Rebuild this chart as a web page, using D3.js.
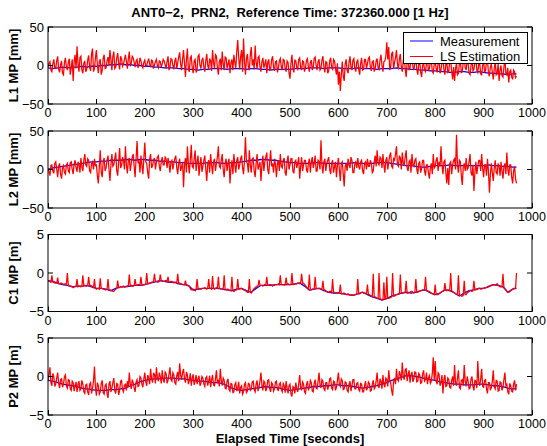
<!DOCTYPE html>
<html><head><meta charset="utf-8">
<script src="https://cdn.jsdelivr.net/npm/d3@7"></script>
<style>body{margin:0;background:#fff} text{white-space:pre}</style>
</head><body><svg id="c" width="547" height="446"></svg>
<script>
const titleText = "ANT0\u22122,  PRN2,  Reference Time: 372360.000 [1 Hz]";
const xLabelText = "Elapsed Time [seconds]";
const xTicks = [0,100,200,300,400,500,600,700,800,900,1000];
const yLabels = ["L1 MP [mm]","L2 MP [mm]","C1 MP [m]","P2 MP [m]"];
const yTicksMM = [-50,0,50];
const yTicksM = [-5,0,5];
const legendNames = ["Measurement","LS Estimation"];

// LS Estimation (red), every 2 s from 0 to 968
const l1Est = [
-2,3,5,-6,-8,2,8,-3,-4,6,12,-5,-9,1,6,-10,-12,4,10,-2,
-6,4,9,-12,-3,8,-20,5,14,-4,25,2,-8,10,12,-6,-10,3,6,-8,
-5,7,13,-2,-7,15,22,-8,-4,10,20,1,-10,5,8,-12,-6,9,14,-4,
-3,6,11,0,20,8,-6,12,18,-4,-2,10,16,3,-5,12,9,-1,2,8,
14,5,-4,9,18,-1,3,12,10,4,-2,6,8,-3,1,10,6,0,-3,4,
7,-1,0,5,9,2,-2,7,6,-4,1,5,8,0,-3,6,5,-2,2,8,
6,1,-4,5,12,-6,-2,9,8,0,-5,6,10,-4,3,11,17,2,-6,8,
20,3,-15,8,22,-5,-8,10,12,-3,-10,6,8,-9,-6,12,14,0,-4,7,
10,-2,-8,6,15,0,-5,9,6,-7,20,4,-4,14,12,-3,-12,5,9,-6,
18,2,-6,11,10,-4,2,8,-10,3,8,-6,14,4,-3,18,33,10,-5,12,
20,-8,35,6,-12,9,15,-2,-6,14,24,0,8,-5,26,4,-4,10,12,-2,
-8,5,10,-3,2,8,-10,4,8,-6,-5,7,12,-2,-7,5,6,-9,-3,6,
9,-2,-6,8,7,-4,-8,6,4,-10,-17,3,14,-4,-9,7,6,-3,-5,8,
10,-3,-6,6,5,-8,-3,7,9,-2,-8,4,7,-6,-2,9,11,0,-6,5,
8,-6,-4,7,12,-2,-9,5,4,-10,-7,6,10,-3,-5,8,6,-4,-12,3,
-25,-8,-33,-12,5,-14,-20,2,8,-6,-10,4,12,-3,-6,7,9,-4,-8,5,
7,-5,-12,3,10,-6,-5,8,8,-4,2,9,11,-2,-7,5,6,-8,-4,6,
9,-3,-5,7,14,0,-8,5,6,12,30,8,24,-6,-2,15,18,-4,4,10,
20,2,-5,9,15,-2,-8,6,12,-4,-15,3,10,-6,-3,8,14,-2,-6,5,
8,-5,-12,2,6,-9,-15,0,4,-6,-8,3,9,-7,-4,5,7,-8,-10,2,
5,-4,-9,3,8,-10,-6,4,10,-5,-12,2,4,-9,-8,6,6,-7,-18,-2,
-20,-4,3,-12,-10,2,6,-9,-8,5,12,-3,-6,7,4,-10,-12,0,8,-7,
-5,4,10,-6,-9,2,3,-11,-12,0,6,-8,-7,5,8,-10,-14,-2,2,-9,
-18,-4,5,-12,-10,2,-20,-6,0,-13,-15,-2,8,-10,-12,-3,-22,-8,-6,-15,
-18,-6,-8,-16,-14];
const l2Est = [
2,-3,-8,5,6,-2,-5,8,10,0,-10,4,8,-6,-12,2,5,-4,-6,6,
8,-2,-4,9,10,0,-6,7,12,2,-3,10,6,-4,15,3,-2,12,20,6,
4,14,12,-2,-4,8,10,0,14,5,6,-8,-18,4,25,-4,-10,10,15,-2,
2,12,18,0,-15,6,20,4,6,14,22,-2,-8,10,28,2,5,16,12,0,
30,6,-5,12,15,-2,8,16,20,4,-10,14,37,8,12,-4,18,6,-6,14,
35,10,8,-4,-12,14,20,2,5,12,15,0,10,16,18,4,-2,10,16,6,
6,16,14,2,15,8,-4,10,12,0,8,14,18,2,-6,8,14,-2,3,10,
-23,6,15,-4,30,8,-5,12,32,4,2,14,25,-2,10,18,-8,6,16,-3,
4,12,18,0,-15,8,12,-4,20,6,-6,10,14,-2,8,16,30,4,2,12,
20,0,-10,8,14,-2,8,14,-18,2,12,-6,20,6,-4,12,16,0,6,14,
18,2,-6,12,42,10,8,-4,25,6,-4,14,15,-2,-10,8,20,0,5,10,
-15,6,18,-2,10,16,22,0,-6,10,25,4,8,-4,14,6,-10,8,12,-2,
20,4,2,12,15,-4,-8,10,18,0,6,14,14,-2,-5,10,12,2,8,16,
-12,4,16,-2,6,12,12,0,-4,8,14,-4,10,16,2,8,18,-2,-2,12,
10,0,38,6,-5,10,14,-2,8,12,16,0,-6,8,12,-4,4,10,-10,6,
15,0,-15,8,10,-6,-22,4,8,-2,14,6,2,16,12,-4,-4,8,10,2,
15,4,0,10,12,-2,-6,8,10,0,14,4,4,12,8,-4,-2,10,18,4,
25,8,6,16,14,2,20,6,-4,12,16,0,10,18,22,4,2,14,12,20,
30,6,4,18,15,0,22,8,6,16,25,2,-2,10,12,-4,20,6,4,12,
14,0,-6,8,10,-4,2,12,12,-2,-8,6,6,-4,-12,2,8,-6,20,2,
4,12,16,-2,10,4,30,6,-6,10,12,-4,-18,2,-20,8,10,-6,6,12,
14,0,45,6,-4,12,10,-8,-20,4,8,-2,15,0,2,10,20,-4,-8,6,
-28,-4,10,-6,4,12,12,-2,20,2,-10,6,6,-8,14,-2,-30,-6,8,-4,
-15,2,12,-4,-6,8,4,-8,10,-2,-12,4,8,-6,22,0,-8,6,6,-10,
-18,-2,4,-12,-18];
const c1Est = [
-1.0,-1.1,-1.1,-1.2,-0.3,-1.2,-1.2,-1.3,-1.3,-1.3,-0.6,-1.4,-1.4,-1.3,-1.3,-1.4,-1.5,-1.4,-1.4,-1.5,
0.0,-1.6,-1.6,-1.7,-1.7,-1.8,-1.9,-1.8,-1.8,-1.7,-0.8,-1.8,-1.7,-1.7,-1.8,-1.7,-0.3,-1.7,-1.6,-1.7,
-1.7,-1.6,-0.5,-1.7,-1.6,-1.7,-1.8,-1.9,-0.8,-2.0,-2.1,-2.0,-2.0,-2.1,-0.7,-2.0,-2.0,-2.1,-2.1,-2.2,
-2.2,-2.1,-0.8,-2.2,-2.2,-2.3,-2.3,-2.4,-2.4,-2.2,-2.1,-2.0,-1.0,-1.9,-1.9,-1.8,-1.8,-1.8,-1.7,-1.8,
-1.8,-1.7,-1.7,-1.6,-0.2,-1.7,-1.6,-1.7,-1.7,-1.6,-0.8,-1.6,-1.6,-1.5,-1.5,-1.6,-0.5,-1.5,-1.6,-1.5,
-1.5,-1.4,0.0,-1.4,-1.4,-1.3,-1.3,-1.2,-1.2,-1.1,-0.1,-1.1,-1.1,-1.2,-1.2,-1.1,-0.2,-1.0,-1.0,-1.1,
-1.1,-1.0,-1.0,-1.1,-0.5,-1.2,-1.2,-1.1,-1.1,-1.2,-1.3,-1.2,-1.2,-1.3,-0.1,-1.3,-1.3,-1.4,-1.4,-1.5,
-1.5,-1.5,-1.0,-1.6,-1.6,-1.7,-1.7,-2.0,-2.2,-2.2,-2.1,-2.2,-2.3,-2.1,-0.8,-2.0,-2.0,-2.1,-2.1,-2.0,
-2.0,-2.0,-1.9,-2.0,-2.1,-2.0,-0.8,-2.0,-2.0,-2.1,-0.4,-2.0,-2.1,-2.0,-1.9,-2.0,-0.5,-2.0,-2.0,-2.1,
-2.1,-2.1,-0.3,-2.2,-2.2,-2.1,-2.1,-2.2,-2.3,-2.3,-0.5,-2.3,-2.4,-2.3,-2.2,-2.2,-0.8,-2.1,-2.1,-2.0,
-2.0,-2.1,-2.2,-2.2,-2.3,-2.4,-2.5,-2.5,-0.8,-2.5,-2.6,-2.4,-2.2,-2.0,-1.9,-1.8,-1.7,-1.7,-0.9,-1.6,
-1.6,-1.6,-1.7,-1.6,-1.5,-1.6,-0.5,-1.6,-1.6,-1.5,-1.5,-1.6,-1.7,-1.6,-1.6,-1.5,-1.5,-1.5,-1.4,-1.5,
-0.3,-1.5,-1.5,-1.5,-1.6,-1.5,-0.6,-1.5,-1.4,-1.5,-1.5,-1.5,0.0,-1.5,-1.5,-1.4,-1.4,-1.4,-1.3,-1.3,
-1.4,-1.3,-0.1,-1.3,-1.3,-1.5,-1.6,-1.8,-2.0,-2.1,-0.2,-2.2,-2.2,-2.1,-2.1,-2.1,-0.5,-2.0,-2.0,-2.0,
-2.0,-2.0,-2.1,-2.1,-1.0,-2.2,-2.2,-2.3,-2.4,-2.5,-2.5,-2.4,-2.4,-2.5,-0.8,-2.5,-2.5,-2.6,-2.6,-2.6,
-2.6,-2.6,-1.5,-2.7,-2.7,-2.6,-2.6,-2.7,-2.8,-2.8,-2.7,-2.8,-2.9,-2.9,-2.8,-2.9,-2.9,-2.8,-2.8,-2.7,
-0.8,-2.7,-2.7,-2.6,-2.5,-2.5,-2.6,-2.6,-2.6,-2.7,-1.5,-2.8,-2.8,-2.9,-3.0,-3.0,-0.1,-3.1,-3.1,-3.2,
-3.3,-3.3,0.0,-3.4,-3.4,-3.5,-3.5,-1.2,-3.4,-3.4,-0.5,-3.3,-3.3,-3.2,-3.2,-3.1,0.0,-3.0,-3.0,-2.9,
-2.8,-2.8,-2.7,-2.7,-0.2,-2.6,-2.6,-2.6,-2.5,-2.5,-1.0,-2.6,-2.6,-2.5,-2.5,-2.4,-2.4,-2.5,-2.6,-2.5,
-0.8,-2.5,-2.5,-2.4,-2.4,-2.3,-2.3,-2.2,-2.2,-2.2,-0.5,-2.3,-2.3,-2.4,-2.4,-2.5,-2.6,-2.7,-2.7,-2.8,
-1.5,-2.8,-2.8,-2.8,-2.7,-2.6,-2.5,-2.4,-2.4,-2.3,-1.3,-2.2,-2.3,-2.2,-2.2,-2.3,0.0,-2.3,-2.4,-2.5,
-2.6,-2.7,-2.8,-2.8,-0.3,-2.9,-2.9,-3.0,-3.0,-2.9,-1.0,-2.8,-2.8,-2.6,-2.5,-2.4,-2.3,-2.3,-2.4,-2.3,
-1.0,-2.2,-2.2,-2.1,-2.1,-2.0,-2.0,-2.1,-2.1,-2.0,-2.0,-1.9,-1.9,-1.9,-1.8,-1.7,-1.7,-1.6,-1.6,-1.5,
-1.5,-1.5,-1.6,-1.5,-1.4,-1.6,-1.7,-1.8,-1.8,-1.8,-0.1,-1.9,-2.0,-2.2,-2.4,-2.5,-2.5,-2.4,-2.3,-2.2,
-2.1,-2.0,-2.0,-2.0,0.0];
const p2Est = [
-0.5,0.3,1.2,-0.8,-1.2,0.4,0.0,-1.3,-1.0,-0.2,0.5,-0.9,-1.5,-0.4,-0.3,-1.4,-1.0,0.0,0.2,-1.2,
-1.5,-0.4,-0.5,-1.6,-1.8,-0.6,-0.8,-1.9,-1.2,-0.7,-2.0,-1.0,-0.6,-1.8,-1.6,-0.5,-1.0,-2.0,-2.2,-1.1,
-1.0,-2.0,-2.4,-1.0,-0.8,-2.2,-1.5,-0.6,1.3,-1.4,-2.5,-0.8,-1.2,-2.3,-2.0,-0.9,-0.5,-2.1,-2.3,-1.2,
-1.0,-2.2,-2.8,-1.0,-0.6,-2.0,-1.5,-0.8,-0.2,-1.9,-2.2,-0.9,-1.0,-2.4,-1.8,-0.6,-0.5,-1.7,-2.0,-1.1,
-1.0,-1.8,-0.6,-1.4,0.5,-1.0,-1.6,-0.4,-0.8,-1.5,-2.0,-0.7,-0.4,-1.3,-1.2,0.0,-0.2,-1.0,-1.4,-0.3,
0.5,-0.7,-1.2,0.2,-0.2,-1.0,1.0,-0.3,-0.8,0.4,0.3,-0.9,1.2,-0.2,-0.6,0.5,0.0,-0.9,0.8,-0.4,
-0.8,0.6,0.4,-0.9,-0.5,0.3,1.2,-0.4,-0.6,0.5,0.2,-0.8,-1.0,0.1,0.6,-0.6,1.7,0.2,-0.4,0.5,
1.0,-0.3,-0.8,0.6,0.2,-1.0,-0.5,0.4,-1.2,-0.2,0.3,-1.1,-0.6,0.2,-1.0,-0.3,0.1,-1.2,-0.9,0.0,
-0.2,-1.0,-1.3,-0.2,0.0,-1.2,-0.6,0.1,-1.4,-0.4,0.2,-1.1,-1.2,-0.3,0.8,-0.9,-0.4,-1.3,1.0,-0.5,
-1.2,-0.2,-0.5,-1.5,-1.6,-0.6,-0.3,-1.7,-1.9,-0.9,-1.0,-2.1,-2.0,-1.1,-0.8,-1.9,-1.5,-0.7,-2.2,-1.4,
-1.2,-2.3,-2.0,-1.0,-0.8,-2.1,-1.9,-0.9,-1.0,-1.8,-1.6,-0.7,-0.6,-1.7,-2.0,-1.0,-0.5,-1.9,-1.3,-0.6,
0.5,-1.2,-1.8,-0.6,-0.8,-1.9,-1.5,-0.5,-0.4,-1.6,-2.0,-0.8,-1.0,-1.9,-1.6,-0.7,-0.6,-1.7,-1.8,-1.0,
-0.8,-1.7,-2.0,-0.9,-1.2,-2.1,-0.6,-1.5,-2.2,-1.2,-1.0,-2.3,-2.6,-1.3,-1.4,-2.2,-0.8,-1.6,-2.0,-1.0,
0.2,-1.4,-1.8,-0.7,-1.0,-2.0,-2.2,-1.1,-0.6,-1.7,-1.5,-0.5,-0.8,-1.9,-2.0,-0.9,-0.4,-1.5,-1.6,-0.6,
0.5,-1.1,-1.5,-0.4,-0.6,-1.6,-1.8,-0.8,-0.8,-1.7,-1.2,-0.3,-0.2,-1.5,-1.7,-0.6,-0.7,-1.8,-1.4,-0.5,
0.5,-1.0,-1.3,-0.3,-0.5,-1.7,-1.6,-0.7,-0.8,-1.8,-2.0,-1.0,-0.6,-1.9,-1.2,-0.4,-0.4,-1.6,-1.6,-0.9,
-0.8,-1.7,-1.9,-0.9,-1.0,-2.0,-2.0,-1.2,-0.6,-1.8,-1.5,-0.7,-0.9,-1.9,-1.8,-1.0,-0.5,-1.6,-1.4,-0.6,
0.5,-1.2,-1.5,-0.3,-0.6,-1.6,0.2,-1.0,-1.4,-0.2,-0.4,-1.3,0.8,-0.5,-0.8,-1.8,-2.5,-0.6,-0.2,-1.0,
1.0,-0.4,-0.6,0.7,0.2,-0.5,1.8,0.0,-0.4,0.9,1.0,-0.6,0.3,0.8,-0.8,0.2,0.6,-0.7,-0.3,0.6,
0.5,-0.7,-0.6,0.4,0.2,-0.9,-0.8,0.3,0.8,-0.6,-0.4,0.5,-1.0,-0.2,0.1,-0.9,-0.6,0.4,2.5,-0.5,
2.0,-0.6,-1.0,0.5,0.3,-1.2,-0.8,0.2,-2.2,-0.4,0.2,-1.3,-1.2,-0.2,-0.4,-1.4,-1.5,-0.5,0.0,-1.2,
1.5,-0.8,-1.2,-0.2,0.8,-1.4,-1.6,-0.5,-0.4,-1.2,1.5,-0.6,-1.3,0.0,-0.6,-1.6,-1.5,-0.3,0.0,-1.3,
-1.8,-0.5,-0.6,-1.5,2.0,-0.7,-1.2,-0.3,1.0,-1.3,-1.4,-0.5,-0.4,-1.6,-2.2,-0.8,-0.8,-1.7,-1.5,-0.6,
0.8,-1.3,-1.6,-0.5,-0.6,-1.9,-1.8,-0.7,-0.8,-1.8,-1.4,-0.4,0.5,-1.2,-1.0,-2.0,-2.3,-0.9,-1.2,-1.9,
-2.0,-1.0,-0.5,-1.8,-1.0];

// Measurement (blue), every 10 s from 0 to 960, then 968
const l1Meas = [
-3,-4,-3,-2,-3,-2,-2,-1,-2,-1,
-1,0,0,1,1,2,1,1,0,0,
-1,-1,-2,-2,-3,-3,-3,-4,-4,-5,
-5,-6,-5,-5,-4,-4,-4,-5,-4,-4,
-4,-5,-4,-4,-5,-5,-6,-5,-5,-5,
-5,-4,-4,-4,-3,-3,-3,-4,-3,-3,
-3,-4,-4,-4,-3,-4,-4,-4,-5,-4,
-4,-4,-3,-4,-4,-5,-5,-6,-6,-7,
-7,-8,-8,-9,-9,-8,-8,-9,-9,-8,
-9,-10,-10,-11,-11,-12,-11,-11];
const l2Meas = [
0,2,3,4,5,6,7,8,9,10,
10,11,11,12,12,12,13,13,12,13,
13,12,12,11,11,10,10,9,9,8,
8,8,8,9,9,9,8,8,9,9,
10,11,12,12,13,13,12,12,11,10,
9,9,8,8,8,9,9,8,8,8,
8,8,8,9,8,8,8,8,9,9,
9,8,7,6,5,5,4,3,3,4,
5,5,5,6,5,5,5,5,5,5,
5,6,5,5,4,4,3,3];
const c1Meas = [
-1.0,-1.1,-1.3,-1.5,-1.6,-1.8,-1.7,-1.7,-1.6,-1.8,
-2.0,-2.0,-2.1,-2.3,-2.0,-1.8,-1.8,-1.7,-1.6,-1.6,
-1.5,-1.3,-1.2,-1.0,-1.1,-1.2,-1.2,-1.4,-1.5,-1.6,
-2.2,-2.1,-2.0,-2.0,-2.0,-2.0,-2.1,-2.2,-2.3,-2.1,
-2.0,-2.3,-2.5,-2.0,-1.6,-1.6,-1.6,-1.5,-1.5,-1.5,
-1.5,-1.4,-1.3,-1.7,-2.2,-2.1,-2.0,-2.3,-2.5,-2.6,
-2.6,-2.7,-2.8,-2.9,-2.7,-2.5,-2.8,-3.1,-3.3,-3.5,
-3.3,-3.0,-2.8,-2.6,-2.5,-2.6,-2.5,-2.3,-2.2,-2.6,
-2.8,-2.6,-2.2,-2.3,-2.6,-3.0,-2.6,-2.3,-2.2,-2.0,
-2.0,-1.8,-1.5,-1.6,-1.8,-2.5,-2.1,-2.0];
const p2Meas = [
-0.5,-0.6,-0.8,-1.0,-1.1,-1.2,-1.3,-1.5,-1.6,-1.7,
-1.8,-1.8,-1.8,-1.7,-1.7,-1.6,-1.5,-1.2,-1.0,-0.7,
-0.5,-0.4,-0.3,-0.3,-0.2,-0.2,-0.2,-0.3,-0.3,-0.4,
-0.5,-0.6,-0.6,-0.7,-0.8,-0.8,-0.9,-1.2,-1.5,-1.7,
-1.8,-1.7,-1.6,-1.5,-1.4,-1.3,-1.4,-1.4,-1.5,-1.7,
-1.8,-1.7,-1.6,-1.5,-1.4,-1.3,-1.3,-1.2,-1.2,-1.1,
-1.1,-1.2,-1.2,-1.3,-1.4,-1.5,-1.4,-1.3,-1.2,-1.0,
-0.8,-0.5,-0.3,-0.1,0.1,0.1,0.0,-0.1,-0.3,-0.4,
-0.5,-0.7,-0.8,-0.9,-1.0,-1.0,-1.1,-1.1,-1.1,-1.0,
-1.0,-1.1,-1.2,-1.2,-1.3,-1.5,-1.6,-1.6];

const estTime = d3.range(l1Est.length).map(i => i * 2);
const measTime = d3.range(97).map(i => i * 10).concat([968]);

const panels = [
  {label: yLabels[0], domain: [-50,50], ticks: yTicksMM, est: l1Est, meas: l1Meas, legend: true},
  {label: yLabels[1], domain: [-50,50], ticks: yTicksMM, est: l2Est, meas: l2Meas},
  {label: yLabels[2], domain: [-5,5], ticks: yTicksM, est: c1Est, meas: c1Meas},
  {label: yLabels[3], domain: [-5,5], ticks: yTicksM, est: p2Est, meas: p2Meas}
];

const svg = d3.select("#c");
const FONT = "'Liberation Sans', Arial, Helvetica, sans-serif";
const left = 48, right = 532, panelH = 77;
const tops = [27, 131, 234.5, 338];
const fmt = v => String(v).replace("-", "\u2212");
const x = d3.scaleLinear().domain([0,1000]).range([left, right]);
const tickLen = 5;

svg.append("text").attr("x", (left+right)/2).attr("y", 17).attr("text-anchor","middle")
  .attr("font-family", FONT).attr("font-size", 13).attr("font-weight","bold").text(titleText);
svg.append("text").attr("x", (left+right)/2).attr("y", 443).attr("text-anchor","middle")
  .attr("font-family", FONT).attr("font-size", 13).attr("font-weight","bold").text(xLabelText);

panels.forEach((p, k) => {
  const top = tops[k], bottom = top + panelH;
  const y = d3.scaleLinear().domain(p.domain).range([bottom, top]);
  const g = svg.append("g");
  const cid = "clip" + k;
  svg.append("clipPath").attr("id", cid).append("rect")
    .attr("x", left).attr("y", top).attr("width", right-left).attr("height", panelH);
  const lineEst = d3.line().x((d,i) => x(estTime[i])).y(d => y(d));
  const lineMeas = d3.line().x((d,i) => x(measTime[i])).y(d => y(d));
  const data = g.append("g").attr("clip-path", `url(#${cid})`);
  data.append("path").attr("d", lineMeas(p.meas)).attr("fill","none").attr("stroke","#0000ff").attr("stroke-width",1.3);
  data.append("path").attr("d", lineEst(p.est)).attr("fill","none").attr("stroke","#ff0000").attr("stroke-width",1.25);

  g.append("rect").attr("x", left).attr("y", top).attr("width", right-left).attr("height", panelH)
    .attr("fill","none").attr("stroke","#000").attr("stroke-width",1);
  xTicks.forEach(t => {
    const xx = Math.round(x(t)) + 0.5;
    g.append("line").attr("x1",xx).attr("x2",xx).attr("y1",bottom).attr("y2",bottom-tickLen).attr("stroke","#000");
    g.append("line").attr("x1",xx).attr("x2",xx).attr("y1",top).attr("y2",top+tickLen).attr("stroke","#000");
    g.append("text").attr("x", x(t)).attr("y", bottom + 13).attr("text-anchor","middle")
      .attr("font-family", FONT).attr("font-size", 12.5).text(t);
  });
  p.ticks.forEach(v => {
    const yy = y(v);
    g.append("line").attr("x1",left).attr("x2",left+tickLen).attr("y1",yy).attr("y2",yy).attr("stroke","#000");
    g.append("line").attr("x1",right).attr("x2",right-tickLen).attr("y1",yy).attr("y2",yy).attr("stroke","#000");
    g.append("text").attr("x", left - 4).attr("y", yy).attr("dy","0.35em").attr("text-anchor","end")
      .attr("font-family", FONT).attr("font-size", 13).text(fmt(v));
  });
  g.append("text").attr("transform", `translate(18,${(top+bottom)/2}) rotate(-90)`)
    .attr("text-anchor","middle").attr("font-family", FONT).attr("font-size", 13).attr("font-weight","bold").text(p.label);

  if (p.legend) {
    const lg = g.append("g");
    lg.append("rect").attr("x", 403.5).attr("y", 32.5).attr("width", 124).attr("height", 31)
      .attr("fill","#fff").attr("stroke","#000").attr("stroke-width",1);
    const cols = ["#0000ff","#ff0000"];
    legendNames.forEach((n, i) => {
      const ly = 41 + i*15.5;
      lg.append("line").attr("x1",410).attr("x2",433).attr("y1",ly).attr("y2",ly).attr("stroke",cols[i]).attr("stroke-width",1);
      lg.append("text").attr("x", 440).attr("y", ly).attr("dy","0.35em").attr("font-family", FONT)
        .attr("font-size", 13).text(n);
    });
  }
});
</script></body></html>
